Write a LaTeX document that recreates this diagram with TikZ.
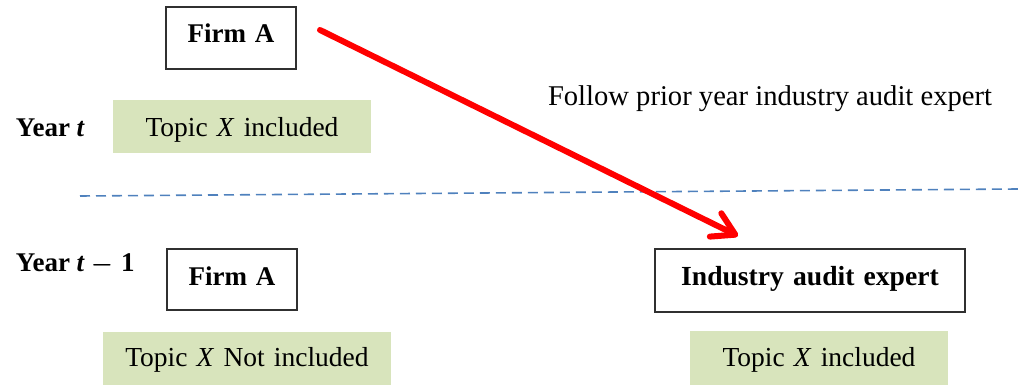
\documentclass[tikz,border=0pt]{standalone}
\usepackage{fontspec}
\setmainfont{Liberation Serif}
\usetikzlibrary{arrows.meta}
\definecolor{topicgreen}{HTML}{D8E4BC}
\definecolor{lineblue}{HTML}{4F81BD}
\definecolor{boxline}{HTML}{303030}
\tikzset{
  every node/.style={inner sep=0pt, outer sep=0pt, anchor=base},
  entity/.style={draw=boxline, line width=1.2pt, align=center,
    font=\fontsize{27}{30}\selectfont\bfseries},
  topic/.style={fill=topicgreen, align=center,
    font=\fontsize{27.5}{32}\selectfont},
  yearlabel/.style={anchor=base west, font=\fontsize{27}{30}\selectfont\bfseries},
  note/.style={anchor=base west, font=\fontsize{28.6}{32}\selectfont},
}
\begin{document}
\begin{tikzpicture}[x=1pt, y=-1pt]
  \useasboundingbox (0,0) rectangle (1018,385);

  % year t
  \node[entity, text width=130pt, text height=36pt, text depth=26pt] (firmT) at (231,43) {Firm A};
  \node[topic, text width=258pt, text height=37pt, text depth=16pt] (topicT) at (242,137) {Topic \textit{X} included};
  \node[yearlabel] (yearT) at (16,137) {Year \textit{t}};
  \node[note] (follow) at (548,105.7) {Follow prior year industry audit expert};

  % separator between the two years
  \coordinate (sepL) at (80,196);
  \coordinate (sepR) at (1018,189);
  \draw[lineblue, line width=1.6pt, dash pattern=on 10pt off 6pt] (sepL) -- (sepR);

  % year t-1
  \node[yearlabel] (yearPrev) at (16,271) {Year \textit{t}\hspace{0.22em}{\boldmath$-$}\hspace{0.3em}1};
  \node[entity, text width=130pt, text height=36pt, text depth=25pt] (firmPrev) at (232,285) {Firm A};
  \node[topic, text width=288pt, text height=34.7pt, text depth=18.3pt] (topicPrev) at (247,366.7) {Topic \textit{X} Not included};
  \node[entity, text width=310pt, text height=36pt, text depth=27pt, font=\fontsize{27.6}{30}\selectfont\bfseries] (expert) at (810,285) {Industry audit expert};
  \node[topic, text width=258pt, text height=35.7pt, text depth=18.3pt] (topicExp) at (819,366.7) {Topic \textit{X} included};

  % firm follows the prior-year expert
  \coordinate (arrStart) at (320,30);
  \coordinate (arrEnd) at (738,236);
  \draw[red, line width=6pt, line cap=round,
    -{Straight Barb[length=22pt, width=26pt, round]}] (arrStart) -- (arrEnd);
\end{tikzpicture}
\end{document}
